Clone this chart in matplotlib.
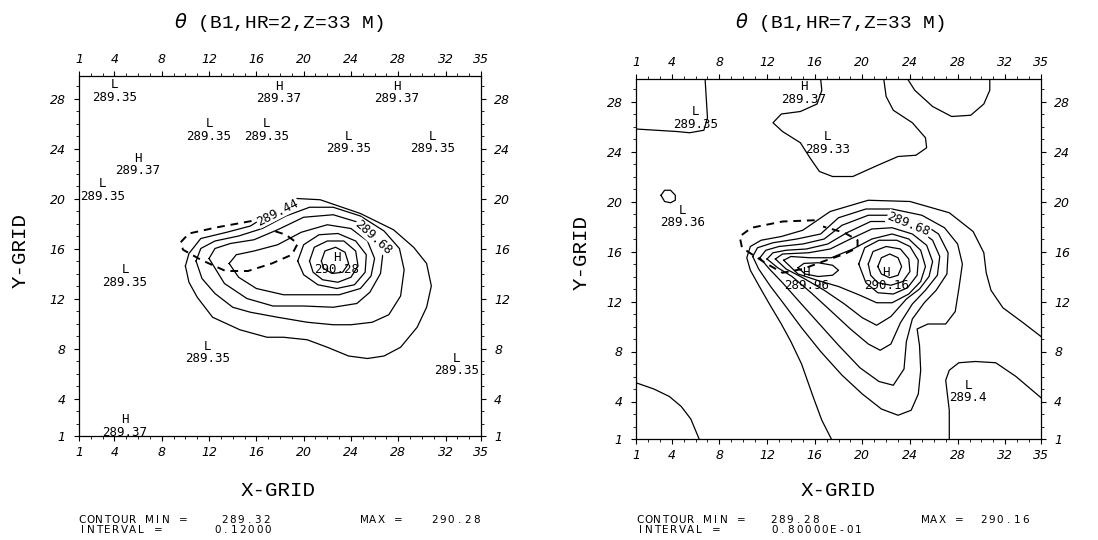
import matplotlib
matplotlib.use("Agg")
import matplotlib.pyplot as plt
from matplotlib.ticker import FixedLocator, MultipleLocator

W, H = 1098, 540

# tick numbers are italic on the plotter, every other text is upright
plt.rcParams["font.style"] = "italic"

# -----------------------
# Axes / text settings
# -----------------------
x_ticks = [1, 4, 8, 12, 16, 20, 24, 28, 32, 35]
y_ticks = [1, 4, 8, 12, 16, 20, 24, 28]
x_range = (1, 35)
y_range = (1, 29.8)

# -----------------------
# HR=2 panel: contours 289.44 .. 290.16 (interval 0.12), grid units
# -----------------------
hr2_c1_x = [10.0, 10.3, 11.3, 13.5, 15.5, 17.5, 19.4, 21.4, 24.8, 27.6, 29.3, 30.4, 30.8, 30.4, 29.6, 28.2, 26.8, 25.4, 23.8, 22.0, 20.3, 18.3, 16.9, 14.6, 12.3, 11.0, 10.3, 10.0]
hr2_c1_y = [14.6, 15.6, 16.8, 17.3, 17.8, 19.0, 20.0, 19.9, 18.8, 17.5, 16.1, 14.8, 13.0, 11.3, 9.7, 8.1, 7.4, 7.2, 7.4, 8.1, 8.7, 8.9, 8.9, 9.5, 10.5, 12.1, 13.3, 14.6]
hr2_c2_x = [10.9, 11.3, 12.5, 14.5, 16.5, 18.5, 20.5, 22.5, 24.8, 26.8, 28.1, 28.5, 28.2, 27.2, 25.8, 24.0, 22.5, 20.3, 17.8, 15.5, 14.0, 12.5, 11.4, 10.9]
hr2_c2_y = [15.0, 16.0, 16.6, 17.0, 17.6, 18.6, 19.3, 19.3, 18.6, 17.4, 16.0, 14.3, 12.2, 10.7, 10.1, 9.9, 9.9, 10.1, 10.5, 10.9, 11.3, 12.4, 13.6, 15.0]
hr2_c3_x = [12.0, 12.5, 13.8, 15.8, 17.8, 20.0, 22.5, 24.6, 26.0, 26.7, 26.5, 25.6, 24.5, 22.5, 20.0, 17.4, 15.2, 13.3, 12.0]
hr2_c3_y = [15.2, 16.0, 16.4, 16.7, 17.5, 18.5, 18.7, 18.1, 17.0, 15.6, 14.0, 12.5, 11.6, 11.3, 11.4, 11.4, 12.0, 13.2, 15.2]
hr2_c4_x = [13.7, 14.3, 15.8, 17.8, 19.8, 22.0, 24.0, 25.4, 26.0, 25.7, 24.8, 23.0, 20.8, 18.3, 16.0, 14.5, 13.7]
hr2_c4_y = [14.8, 15.5, 15.8, 16.3, 17.3, 17.9, 17.6, 16.6, 15.2, 13.8, 12.8, 12.3, 12.3, 12.3, 12.8, 13.7, 14.8]
hr2_c5_x = [19.5, 20.0, 21.3, 22.9, 24.4, 25.3, 25.2, 24.3, 22.8, 21.2, 20.0, 19.5]
hr2_c5_y = [15.0, 16.3, 17.1, 17.2, 16.6, 15.5, 14.1, 13.1, 12.8, 13.1, 13.9, 15.0]
hr2_c6_x = [20.5, 20.9, 22.0, 23.4, 24.4, 24.6, 24.0, 22.9, 21.6, 20.8, 20.5]
hr2_c6_y = [15.0, 16.1, 16.6, 16.6, 15.8, 14.6, 13.7, 13.3, 13.5, 14.1, 15.0]
hr2_c7_x = [21.5, 21.8, 22.7, 23.5, 23.8, 23.3, 22.4, 21.7, 21.5]
hr2_c7_y = [15.0, 15.8, 16.1, 15.7, 14.8, 14.1, 14.0, 14.4, 15.0]

hr2_dash_x = [16.7, 15.6, 12.7, 10.3, 9.6, 9.8, 11.3, 13.4, 15.3, 17.3, 19.0, 19.5, 18.5, 17.2]
hr2_dash_y = [18.5, 18.2, 17.7, 17.2, 16.5, 15.9, 15.1, 14.2, 14.2, 14.8, 15.5, 16.4, 17.1, 17.5]

hr2_mark_x = [4.0, 17.9, 27.9, 12.0, 16.9, 23.8, 30.9, 6.0, 3.0, 4.9, 11.9, 32.9, 4.9, 22.8]
hr2_mark_y = [29.1, 29.0, 29.0, 26.0, 26.0, 25.0, 25.0, 23.2, 21.2, 14.3, 8.2, 7.2, 2.3, 15.3]
hr2_mark_kind = ["L", "H", "H", "L", "L", "L", "L", "H", "L", "L", "L", "L", "H", "H"]
hr2_mark_val = ["289.35", "289.37", "289.37", "289.35", "289.35", "289.35", "289.35",
                "289.37", "289.35", "289.35", "289.35", "289.35", "289.37", "290.28"]

hr2_inline_x = [17.8, 25.9]
hr2_inline_y = [18.9, 16.9]
hr2_inline_txt = ["289.44", "289.68"]
hr2_inline_rot = [27, -42]

# -----------------------
# HR=7 panel: contours 289.36 .. 290.08 (interval 0.08), grid units
# -----------------------
hr7_c1_x = [17.4, 16.6, 15.9, 14.9, 14.0, 13.2, 12.2, 11.3, 10.6, 10.3, 10.6, 11.5, 13.2, 15.0, 17.3, 20.5, 24.0, 27.3, 29.3, 30.2, 30.4, 30.8, 31.8, 33.5, 35.0]
hr7_c1_y = [1.0, 2.5, 4.3, 7.0, 8.8, 10.2, 11.8, 13.3, 14.5, 15.5, 16.4, 16.9, 17.2, 17.7, 19.2, 20.1, 20.0, 19.1, 17.6, 15.9, 14.3, 12.9, 11.5, 10.3, 9.2]
hr7_c2_x = [10.8, 11.3, 12.3, 13.5, 14.9, 16.5, 18.3, 20.0, 21.6, 23.0, 24.1, 24.7, 24.9, 24.8, 24.6, 25.5, 27.0, 27.8, 28.1, 28.4, 28.0, 26.9, 25.0, 22.5, 20.3, 18.0, 16.5, 14.5, 12.5, 11.2, 10.8]
hr7_c2_y = [15.6, 14.6, 13.2, 11.7, 9.9, 8.0, 6.1, 4.6, 3.4, 2.9, 3.3, 4.6, 6.5, 8.5, 9.8, 10.2, 10.2, 11.2, 13.0, 15.0, 16.6, 17.9, 18.9, 19.4, 19.4, 18.7, 17.4, 17.0, 16.7, 16.3, 15.6]
hr7_c3_x = [11.4, 11.9, 13.0, 15.0, 16.8, 18.3, 20.5, 22.5, 24.8, 26.4, 27.2, 27.1, 26.2, 25.2, 24.2, 23.7, 23.5, 22.6, 21.4, 19.8, 18.0, 16.3, 14.7, 13.3, 12.2, 11.4]
hr7_c3_y = [15.5, 16.1, 16.4, 16.6, 17.0, 18.1, 18.9, 18.9, 18.4, 17.4, 15.9, 14.2, 12.9, 11.9, 10.6, 8.8, 6.6, 5.3, 5.6, 6.7, 8.5, 10.3, 12.0, 13.5, 14.6, 15.5]
hr7_c4_x = [12.0, 12.5, 13.6, 15.3, 17.1, 18.7, 20.7, 22.5, 24.5, 25.9, 26.5, 26.3, 25.3, 24.2, 23.2, 22.4, 21.5, 20.5, 19.0, 17.3, 15.7, 14.1, 12.9, 12.0]
hr7_c4_y = [15.4, 15.9, 16.1, 16.2, 16.6, 17.5, 18.4, 18.4, 17.9, 16.9, 15.6, 14.1, 12.9, 11.8, 10.3, 8.6, 8.1, 8.6, 9.8, 11.3, 12.7, 14.0, 14.7, 15.4]
hr7_c5_x = [12.7, 13.3, 15.5, 17.3, 19.0, 20.8, 22.5, 24.2, 25.4, 25.9, 25.6, 24.8, 23.7, 22.4, 21.2, 20.0, 18.5, 16.8, 15.0, 13.6, 12.7]
hr7_c5_y = [15.4, 15.8, 15.9, 16.2, 17.0, 17.8, 17.9, 17.4, 16.5, 15.2, 14.0, 13.0, 12.2, 10.8, 10.1, 10.7, 11.8, 12.9, 13.9, 14.6, 15.4]
hr7_c6_x = [13.4, 14.0, 15.6, 17.4, 19.2, 20.8, 22.5, 23.9, 24.9, 25.3, 24.9, 23.9, 22.5, 21.2, 19.8, 18.0, 16.2, 14.6, 13.4]
hr7_c6_y = [15.3, 15.6, 15.5, 15.5, 16.2, 17.0, 17.4, 17.0, 16.1, 14.8, 13.6, 12.6, 11.9, 11.9, 12.5, 13.2, 13.7, 14.2, 15.3]
hr7_c7a_x = [14.6, 15.1, 16.3, 17.5, 18.0, 17.5, 16.3, 15.2, 14.6]
hr7_c7a_y = [14.7, 15.05, 15.1, 14.9, 14.5, 14.1, 14.0, 14.2, 14.7]
hr7_c7b_x = [19.7, 20.2, 21.4, 22.9, 24.0, 24.7, 24.6, 23.8, 22.6, 21.3, 20.3, 19.7]
hr7_c7b_y = [15.0, 16.3, 16.9, 16.9, 16.4, 15.3, 14.1, 13.1, 12.6, 12.7, 13.5, 15.0]
hr7_c8_x = [20.5, 20.9, 22.0, 23.2, 23.9, 24.0, 23.4, 22.4, 21.3, 20.7, 20.5]
hr7_c8_y = [15.0, 16.0, 16.4, 16.2, 15.4, 14.4, 13.6, 13.3, 13.5, 14.1, 15.0]
hr7_c9_x = [21.3, 21.6, 22.3, 23.0, 23.3, 23.0, 22.3, 21.6, 21.3]
hr7_c9_y = [14.8, 15.5, 15.8, 15.5, 14.8, 14.1, 13.9, 14.2, 14.8]

# background 289.36 / 289.44 lines
hr7_a_x = [6.8, 7.0, 6.7, 5.5, 4.4, 1.0]
hr7_a_y = [29.8, 26.7, 25.7, 25.5, 25.6, 25.8]
hr7_b_x = [16.5, 16.6, 16.2, 14.8, 13.2, 12.5, 13.3, 14.8, 15.6, 16.4, 17.5, 19.2, 21.3, 23.0, 24.5, 25.4, 25.3, 24.2, 22.6, 22.0, 21.8]
hr7_b_y = [29.8, 28.9, 27.8, 27.2, 27.0, 26.3, 25.6, 24.7, 23.5, 22.4, 22.0, 22.0, 22.9, 23.6, 23.7, 24.3, 25.1, 26.3, 27.3, 28.4, 29.8]
hr7_c_x = [23.8, 24.4, 25.9, 27.5, 29.1, 30.2, 30.7, 30.7]
hr7_c_y = [29.8, 28.9, 27.6, 26.8, 26.9, 27.8, 28.9, 29.8]
hr7_d_x = [1.0, 2.5, 3.8, 4.8, 5.6, 6.3]
hr7_d_y = [5.5, 5.0, 4.4, 3.6, 2.6, 1.0]
hr7_e_x = [27.3, 27.3, 27.0, 27.3, 28.1, 29.5, 31.2, 32.9, 35.0]
hr7_e_y = [1.0, 3.3, 5.7, 6.5, 7.1, 7.2, 7.1, 6.0, 4.3]
hr7_f_x = [3.1, 3.4, 3.9, 4.3, 4.3, 3.9, 3.4, 3.1]
hr7_f_y = [20.5, 20.9, 20.9, 20.5, 20.1, 19.9, 20.0, 20.5]

hr7_dash_x = [16.0, 13.3, 10.7, 9.7, 9.9, 10.7, 12.0, 13.3, 15.0, 16.7, 18.5, 19.6, 19.6, 18.5, 16.7]
hr7_dash_y = [18.5, 18.4, 17.9, 17.2, 16.3, 15.8, 15.0, 14.3, 14.6, 15.2, 15.8, 16.3, 16.9, 17.5, 18.0]

hr7_mark_x = [6.0, 15.1, 17.1, 4.9, 28.9, 15.3, 22.0]
hr7_mark_y = [27.2, 29.2, 25.2, 19.3, 5.3, 14.3, 14.3]
hr7_mark_kind = ["L", "H", "L", "L", "L", "H", "H"]
hr7_mark_val = ["289.35", "289.37", "289.33", "289.36", "289.4", "289.96", "290.16"]

hr7_inline_x = [23.9]
hr7_inline_y = [18.2]
hr7_inline_txt = ["289.68"]
hr7_inline_rot = [-22]

hr2_lines = [(hr2_c1_x, hr2_c1_y), (hr2_c2_x, hr2_c2_y), (hr2_c3_x, hr2_c3_y),
             (hr2_c4_x, hr2_c4_y), (hr2_c5_x, hr2_c5_y), (hr2_c6_x, hr2_c6_y),
             (hr2_c7_x, hr2_c7_y)]
hr7_lines = [(hr7_c1_x, hr7_c1_y), (hr7_c2_x, hr7_c2_y), (hr7_c3_x, hr7_c3_y),
             (hr7_c4_x, hr7_c4_y), (hr7_c5_x, hr7_c5_y), (hr7_c6_x, hr7_c6_y),
             (hr7_c7a_x, hr7_c7a_y), (hr7_c7b_x, hr7_c7b_y), (hr7_c8_x, hr7_c8_y),
             (hr7_c9_x, hr7_c9_y), (hr7_a_x, hr7_a_y), (hr7_b_x, hr7_b_y),
             (hr7_c_x, hr7_c_y), (hr7_d_x, hr7_d_y), (hr7_e_x, hr7_e_y),
             (hr7_f_x, hr7_f_y)]

MONO = "DejaVu Sans Mono"
SERIF_MONO = "Liberation Mono"


def draw_panel(ax, lines, dash_x, dash_y, mk_x, mk_y, mk_kind, mk_val,
               in_x, in_y, in_txt, in_rot):
    for xs, ys in lines:
        ax.plot(xs, ys, color="black", lw=0.9, solid_joinstyle="round")
    ax.plot(dash_x, dash_y, color="black", lw=1.4, ls=(0, (4, 3)))
    for x, y, k, v in zip(mk_x, mk_y, mk_kind, mk_val):
        ax.text(x, y, k, ha="center", va="center", fontsize=9, family=MONO,
                fontstyle="normal")
        ax.text(x, y - 1.0, v, ha="center", va="center", fontsize=9, family=MONO,
                fontstyle="normal")
    for x, y, t, r in zip(in_x, in_y, in_txt, in_rot):
        ax.text(x, y, t, ha="center", va="center", fontsize=9, family=MONO,
                fontstyle="normal", rotation=r, rotation_mode="anchor",
                bbox=dict(fc="white", ec="none", pad=0.4))

    ax.set_xlim(*x_range)
    ax.set_ylim(*y_range)
    ax.xaxis.set_major_locator(FixedLocator(x_ticks))
    ax.yaxis.set_major_locator(FixedLocator(y_ticks))
    ax.xaxis.set_minor_locator(MultipleLocator(1))
    ax.yaxis.set_minor_locator(MultipleLocator(1))
    ax.tick_params(which="both", direction="out", top=True, right=True,
                   labeltop=True, labelright=True)
    ax.tick_params(which="major", length=3.5, width=0.8, labelsize=9, pad=4)
    ax.tick_params(axis="y", which="major", pad=6)
    ax.tick_params(which="minor", length=2, width=0.6)
    for s in ax.spines.values():
        s.set_linewidth(0.9)


def spaced(fig, px, py, s, step=8.4, size=7.5):
    # letter-spaced caps like the plotter footer
    for i, ch in enumerate(s):
        fig.text((px + i * step + step / 2) / W, 1 - py / H, ch, ha="center",
                 va="center", fontsize=size, family="DejaVu Sans",
                 fontstyle="normal")


fig = plt.figure(figsize=(W / 100, H / 100), dpi=100)
fig.patch.set_facecolor("white")

ax1 = fig.add_axes([79 / W, 1 - 436 / H, 402 / W, 360 / H])
ax2 = fig.add_axes([636 / W, 1 - 439 / H, 405 / W, 360 / H])

draw_panel(ax1, hr2_lines, hr2_dash_x, hr2_dash_y, hr2_mark_x, hr2_mark_y,
           hr2_mark_kind, hr2_mark_val, hr2_inline_x, hr2_inline_y,
           hr2_inline_txt, hr2_inline_rot)
draw_panel(ax2, hr7_lines, hr7_dash_x, hr7_dash_y, hr7_mark_x, hr7_mark_y,
           hr7_mark_kind, hr7_mark_val, hr7_inline_x, hr7_inline_y,
           hr7_inline_txt, hr7_inline_rot)

# titles and axis names
title_kw = dict(ha="center", va="center", fontsize=14, family=SERIF_MONO,
                fontstyle="normal")
fig.text(279 / W, 1 - 22 / H, r"$\theta$ (B1,HR=2,Z=33 M)", **title_kw)
fig.text(840 / W, 1 - 22 / H, r"$\theta$ (B1,HR=7,Z=33 M)", **title_kw)
name_kw = dict(ha="center", va="center", fontsize=15, family=SERIF_MONO,
               fontstyle="normal")
fig.text(278 / W, 1 - 490 / H, "X-GRID", **name_kw)
fig.text(838 / W, 1 - 490 / H, "X-GRID", **name_kw)
fig.text(20 / W, 1 - 250 / H, "Y-GRID", rotation=90, **name_kw)
fig.text(581 / W, 1 - 253 / H, "Y-GRID", rotation=90, **name_kw)

# footer
spaced(fig, 78, 520, "CONTOUR MIN =")
spaced(fig, 220, 520, "289.32")
spaced(fig, 360, 520, "MAX =")
spaced(fig, 430, 520, "290.28")
spaced(fig, 78, 530, "INTERVAL =")
spaced(fig, 213, 530, "0.12000")
spaced(fig, 636, 520, "CONTOUR MIN =")
spaced(fig, 769, 520, "289.28")
spaced(fig, 921, 520, "MAX =")
spaced(fig, 979, 520, "290.16")
spaced(fig, 636, 530, "INTERVAL =")
spaced(fig, 770, 530, "0.80000E-01")

fig.savefig("out.png", dpi=100, facecolor="white")
